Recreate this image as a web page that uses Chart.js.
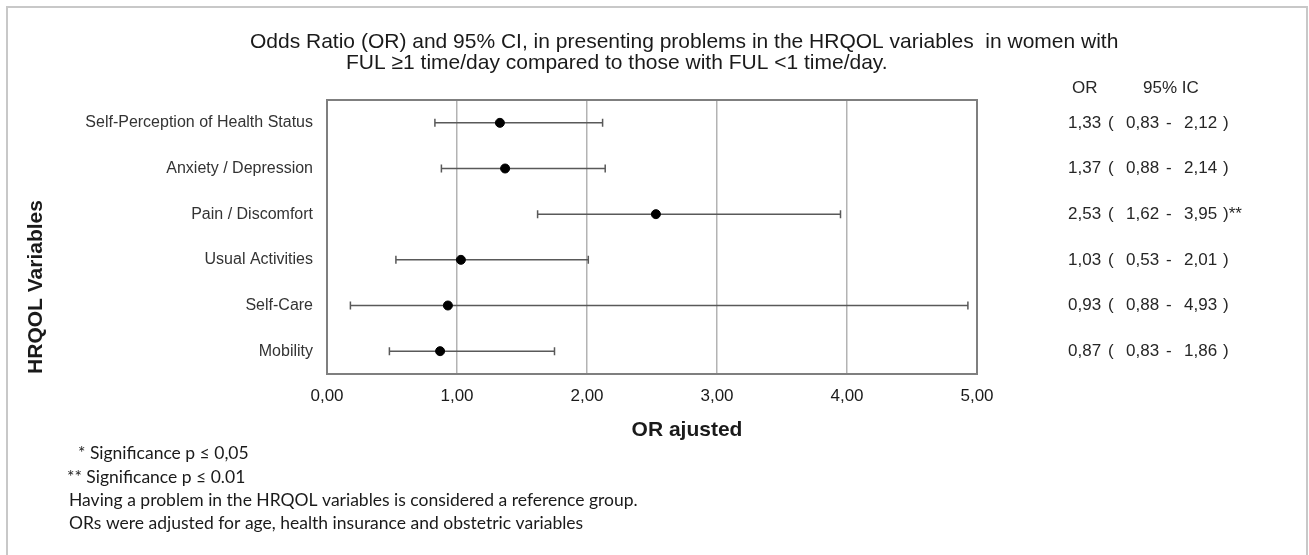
<!DOCTYPE html>
<html>
<head>
<meta charset="utf-8">
<title>Odds Ratio forest plot</title>
<script src="https://cdn.jsdelivr.net/npm/chart.js@4/dist/chart.umd.min.js"></script>
<style>
  html, body { margin: 0; padding: 0; background: #ffffff; }
  #wrap { width: 1309px; height: 555px; position: relative; }
</style>
</head>
<body>
<div id="wrap"><canvas id="chart" width="1309" height="555"></canvas></div>
<script>
// Chart data.
var categories = [
  'Self-Perception of Health Status',
  'Anxiety / Depression',
  'Pain / Discomfort',
  'Usual Activities',
  'Self-Care',
  'Mobility'
];
var orValues = [1.33, 1.37, 2.53, 1.03, 0.93, 0.87];
// Interval ends as drawn in the picture.
var ciLower = [0.83, 0.88, 1.62, 0.53, 0.18, 0.48];
var ciUpper = [2.12, 2.14, 3.95, 2.01, 4.93, 1.75];
var xTickLabels = ['0,00', '1,00', '2,00', '3,00', '4,00', '5,00'];

// Table printed at the right of the plot.
var tableOR = ['1,33', '1,37', '2,53', '1,03', '0,93', '0,87'];
var tableLower = ['0,83', '0,88', '1,62', '0,53', '0,88', '0,83'];
var tableUpper = ['2,12', '2,14', '3,95', '2,01', '4,93', '1,86'];
var sigMarks = ['', '', '**', '', '', ''];

var titleLines = [
  'Odds Ratio (OR) and 95% CI, in presenting problems in the HRQOL variables  in women with',
  'FUL \u22651 time/day compared to those with FUL <1 time/day.'
];
var footnotes = [
  '  * Significance p \u2264 0,05',
  '** Significance p \u2264 0.01',
  'Having a problem in the HRQOL variables is considered a reference group.',
  'ORs were adjusted for age, health insurance and obstetric variables'
];

var SANS = '"Liberation Sans", Arial, Helvetica, sans-serif';
var NOTE_FONT = 'Lato, "Open Sans", sans-serif';

/**
 * @description Draws confidence interval whiskers with end caps.
 */
var errorBarPlugin = {
  id: 'errorBars',
  beforeDatasetsDraw: function (chart) {
    var ctx = chart.ctx;
    var x = chart.scales.x;
    var y = chart.scales.y;
    ctx.save();
    ctx.strokeStyle = '#595959';
    ctx.lineWidth = 1.5;
    categories.forEach(function (cat, i) {
      var py = y.getPixelForValue(i);
      var x1 = x.getPixelForValue(ciLower[i]);
      var x2 = x.getPixelForValue(ciUpper[i]);
      ctx.beginPath();
      ctx.moveTo(x1, py);
      ctx.lineTo(x2, py);
      ctx.moveTo(x1, py - 4);
      ctx.lineTo(x1, py + 4);
      ctx.moveTo(x2, py - 4);
      ctx.lineTo(x2, py + 4);
      ctx.stroke();
    });
    ctx.restore();
  }
};

/**
 * @description Plot frame, titles, OR table and footnotes.
 */
var decorPlugin = {
  id: 'decor',
  afterDraw: function (chart) {
    var ctx = chart.ctx;
    var area = chart.chartArea;
    var y = chart.scales.y;

    ctx.save();

    // Outer picture border (no bottom edge).
    ctx.strokeStyle = '#c8c8c8';
    ctx.lineWidth = 2;
    ctx.beginPath();
    ctx.moveTo(7, 560);
    ctx.lineTo(7, 7);
    ctx.lineTo(1307, 7);
    ctx.lineTo(1307, 560);
    ctx.stroke();

    // Plot frame.
    ctx.strokeStyle = '#7f7f7f';
    ctx.lineWidth = 2;
    ctx.strokeRect(area.left, area.top, area.right - area.left, area.bottom - area.top);

    // Title.
    ctx.fillStyle = '#1a1a1a';
    ctx.textBaseline = 'middle';
    ctx.textAlign = 'left';
    ctx.font = '21px ' + SANS;
    ctx.fillText(titleLines[0], 250, 42);
    ctx.fillText(titleLines[1], 346, 63);

    // Axis titles.
    ctx.font = 'bold 21px ' + SANS;
    ctx.textAlign = 'center';
    ctx.fillText('OR ajusted', 687, 430);
    ctx.save();
    ctx.translate(36, 287);
    ctx.rotate(-Math.PI / 2);
    ctx.fillText('HRQOL Variables', 0, 0);
    ctx.restore();

    // OR table.
    ctx.textAlign = 'left';
    ctx.font = '17px ' + SANS;
    ctx.fillStyle = '#262626';
    ctx.fillText('OR', 1072, 88);
    ctx.fillText('95% IC', 1143, 88);
    categories.forEach(function (cat, i) {
      var py = y.getPixelForValue(i);
      ctx.fillText(tableOR[i], 1068, py);
      ctx.fillText('(', 1108, py);
      ctx.fillText(tableLower[i], 1126, py);
      ctx.fillText('-', 1166, py);
      ctx.fillText(tableUpper[i], 1184, py);
      ctx.fillText(')' + sigMarks[i], 1223, py);
    });

    // Footnotes.
    ctx.font = '17.5px ' + NOTE_FONT;
    ctx.fillStyle = '#1a1a1a';
    var noteX = [69, 67, 69, 69];
    var noteY = [453, 477, 500, 523];
    footnotes.forEach(function (line, i) {
      ctx.fillText(line, noteX[i], noteY[i]);
    });

    ctx.restore();
  }
};

/**
 * @description Builds the forest plot.
 */
function drawChart() {
  var ctx = document.getElementById('chart').getContext('2d');

  return new Chart(ctx, {
    type: 'scatter',
    data: {
      labels: categories,
      datasets: [{
        data: orValues.map(function (v, i) {
          return { x: v, y: categories[i] };
        }),
        backgroundColor: '#000000',
        borderColor: '#000000',
        borderWidth: 1,
        pointRadius: 4.5,
        pointHoverRadius: 4.5
      }]
    },
    options: {
      responsive: false,
      animation: false,
      events: [],
      layout: { padding: { top: 100, right: 332, left: 0, bottom: 0 } },
      plugins: {
        legend: { display: false },
        title: { display: false },
        tooltip: { enabled: false }
      },
      scales: {
        x: {
          type: 'linear',
          min: 0,
          max: 5,
          afterFit: function (scale) { scale.height = 181; },
          ticks: {
            stepSize: 1,
            padding: 12,
            color: '#1a1a1a',
            font: { family: SANS, size: 17 },
            callback: function (value, index) { return xTickLabels[index]; }
          },
          grid: { color: '#b3b3b3', lineWidth: 1.5, drawTicks: false },
          border: { display: false }
        },
        y: {
          type: 'category',
          labels: categories,
          offset: true,
          afterFit: function (scale) { scale.width = 327; },
          ticks: {
            padding: 14,
            color: '#333333',
            font: { family: SANS, size: 16 }
          },
          grid: { display: false, drawTicks: false },
          border: { display: false }
        }
      }
    },
    plugins: [errorBarPlugin, decorPlugin]
  });
}

drawChart();
</script>
</body>
</html>
